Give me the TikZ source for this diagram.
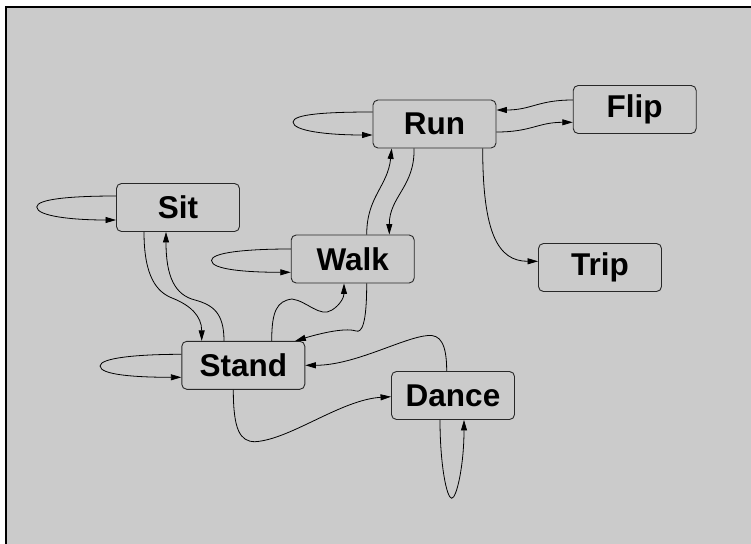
\documentclass[tikz,border=0pt]{standalone}
\usepackage{fontspec}
\setmainfont{Liberation Sans}
\usetikzlibrary{arrows.meta,calc}
\definecolor{bggray}{RGB}{203,203,203}
\definecolor{boxline}{RGB}{40,40,40}
\begin{document}
\begin{tikzpicture}[x=1pt,y=1pt,
  state/.style={draw=boxline,line width=0.9pt,rounded corners=5pt,fill=bggray,
    minimum width=123pt,minimum height=48pt,inner sep=0pt,
    font=\fontsize{31.5}{31.5}\selectfont\bfseries},
  edge/.style={draw=black,line width=0.8pt,-{Triangle[length=10.5pt,width=6pt]}}]
\useasboundingbox (0,0) rectangle (751,-543);
\fill[white] (0,0) rectangle (751,-543);
\draw[line width=2pt,fill=bggray] (6.3,-7.3) rectangle (770,-560);
% nodes
\node[state] (run)   at (434.5,-124)   {Run};
\node[state] (flip)  at (634.7,-109.5) {Flip};
\node[state] (sit)   at (178,-207.5)   {Sit};
\node[state] (walk)  at (352.7,-259)   {Walk};
\node[state] (stand) at (243.3,-365.3) {Stand};
\node[state] (dance) at (453,-395.5)   {Dance};
\node[state] (trip)  at (600,-267.5)   {Trip};
% self loops
\draw[edge] ($(run.west)+(0,12)$) .. controls +(-45,0) and +(0,8) .. ($(run.west)+(-79.5,2)$)
  .. controls +(0,-9) and +(-45,0) .. ($(run.west)+(0,-11)$);
\draw[edge] ($(sit.west)+(0,11.5)$) .. controls +(-45,0) and +(0,8) .. ($(sit.west)+(-79.3,0.5)$)
  .. controls +(0,-9) and +(-45,0) .. ($(sit.west)+(0,-12.5)$);
\draw[edge] ($(walk.west)+(0,10)$) .. controls +(-45,0) and +(0,8) .. ($(walk.west)+(-79.3,-1.5)$)
  .. controls +(0,-9) and +(-45,0) .. ($(walk.west)+(0,-13.3)$);
\draw[edge] ($(stand.west)+(0,11)$) .. controls +(-45,0) and +(0,8) .. ($(stand.west)+(-81.3,-0.7)$)
  .. controls +(0,-9) and +(-45,0) .. ($(stand.west)+(0,-12)$);
\draw[edge] ($(dance.south)+(-13,0)$) .. controls +(0,-45) and +(-5,0) .. ($(dance.south)+(-1.3,-78.3)$)
  .. controls +(5,0) and +(0,-45) .. ($(dance.south)+(11,0)$);
% Run <-> Flip
\draw[edge] ($(flip.west)+(0,9.5)$) .. controls +(-35,0) and +(35,0) .. ($(run.east)+(0,14)$);
\draw[edge] ($(run.east)+(0,-8)$) .. controls +(35,0) and +(-35,0) .. ($(flip.west)+(0,-12.8)$);
% Run -> Trip
\draw[edge] ($(run.south)+(48.2,0)$) .. controls +(0,-85) and +(-40,0) .. ($(trip.west)+(0,6.2)$);
% Walk <-> Run
\draw[edge] ($(walk.north)+(14,0)$) .. controls +(0,38) and +(-4,-38) .. ($(run.south)+(-42.8,0)$);
\draw[edge] ($(run.south)+(-20.5,0)$) .. controls +(1,-38) and +(0,38) .. ($(walk.north)+(36.6,0)$);
% Stand -> Walk
\draw[edge] ($(stand.north)+(28.4,0)$) .. controls +(0,30) and +(-15,-2) .. (292,-299)
  .. controls +(15,-2) and +(-12,-8) .. (332,-310)
  .. controls +(8,5) and +(0,-14) .. ($(walk.south)+(-8.7,0)$);
% Walk -> Stand
\draw[edge] ($(walk.south)+(14,0)$) .. controls +(0,-40) and +(6,-2) .. (356,-331)
  .. controls +(-12,4) and +(20,6) .. ($(stand.north)+(52,0)$);
% Sit <-> Stand
\draw[edge] ($(sit.south)+(-34,0)$) .. controls +(0,-45) and +(-15,6) .. (172,-298)
  .. controls +(18,-7) and +(0,25) .. ($(stand.north)+(-41.6,0)$);
\draw[edge] ($(stand.north)+(-19.3,0)$) .. controls +(0,28) and +(18,-5) .. (195,-300)
  .. controls +(-20,5) and +(0,-45) .. ($(sit.south)+(-12,0)$);
% Dance -> Stand
\draw[edge] ($(dance.north)+(-6.3,0)$) .. controls +(0,28) and +(12,1) .. (428,-335.5)
  .. controls +(-25,-2) and +(50,0) .. (stand.east);
% Stand -> Dance
\draw[edge] ($(stand.south)+(-10,0)$) .. controls +(0,-40) and +(-15,0) .. (255,-441.7)
  .. controls +(35,2) and +(-50,-3) .. ($(dance.west)+(0,-1.2)$);
\end{tikzpicture}
\end{document}
